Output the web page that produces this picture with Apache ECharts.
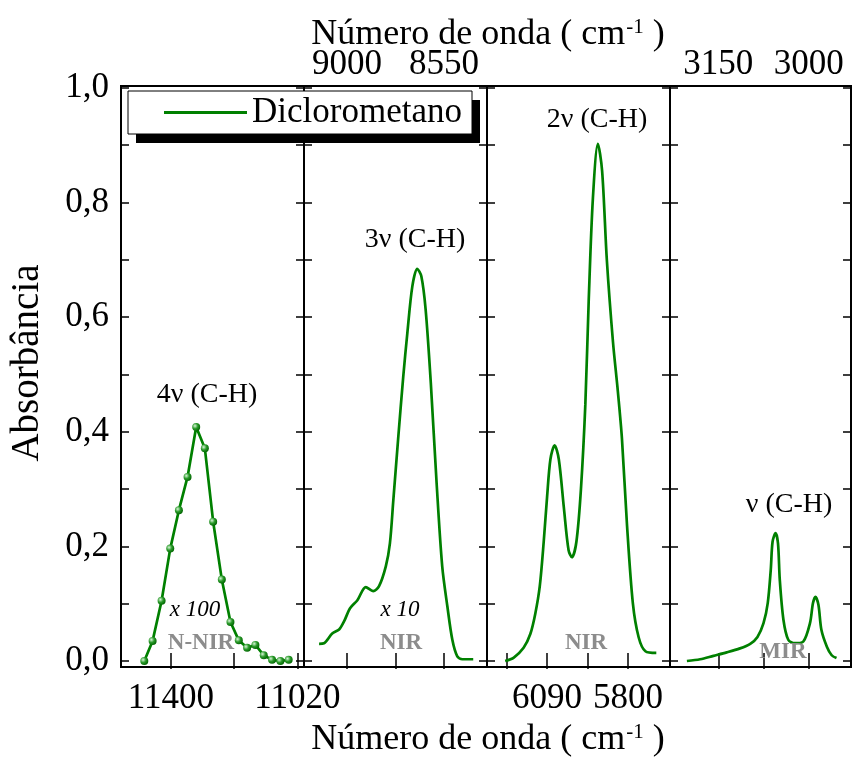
<!DOCTYPE html>
<html>
<head>
<meta charset="utf-8">
<script src="https://cdn.jsdelivr.net/npm/echarts@6/dist/echarts.min.js"></script>
<style>html,body{margin:0;padding:0;background:#fff;}#c{width:854px;height:761px;}</style>
</head>
<body>
<div id="c"></div>
<script>
// ---- data ----
const seriesName = 'Diclorometano';
const yTicks = [0, 0.1, 0.2, 0.3, 0.4, 0.5, 0.6, 0.7, 0.8, 0.9, 1.0];
const yLabels = [0, 0.2, 0.4, 0.6, 0.8, 1.0];

const p1Range = [11000, 11550];
const p1Ticks = [11400, 11210, 11020];
const p1Labels = [11400, 11020];
const p1Wave = [11480, 11455, 11428, 11402, 11376, 11350, 11324, 11298, 11273, 11247, 11221, 11196, 11171, 11146, 11121, 11096, 11071, 11046];
const p1Abs = [0.0, 0.035, 0.105, 0.196, 0.263, 0.321, 0.408, 0.371, 0.243, 0.142, 0.068, 0.036, 0.023, 0.028, 0.010, 0.002, 0.0, 0.002];

const p2Range = [8350, 9200];
const p2Ticks = [9000, 8775, 8550];
const p2Labels = [9000, 8550];
const p2Wave = [9130, 9107, 9069, 9037, 9014, 8986, 8952, 8913, 8879, 8852, 8820, 8801, 8785, 8763, 8739, 8720, 8697, 8674, 8655, 8635, 8611, 8584, 8558, 8534, 8511, 8488, 8465, 8414];
const p2Abs = [0.030, 0.031, 0.048, 0.055, 0.069, 0.092, 0.106, 0.129, 0.122, 0.130, 0.165, 0.205, 0.281, 0.386, 0.496, 0.572, 0.653, 0.684, 0.671, 0.613, 0.485, 0.310, 0.165, 0.095, 0.037, 0.008, 0.003, 0.003];

const p3Range = [5650, 6305];
const p3Ticks = [6235, 6090, 5945, 5800];
const p3Labels = [6090, 5800];
const p3Wave = [6240, 6209, 6174, 6150, 6132, 6116, 6102, 6090, 6078, 6063, 6048, 6030, 6013, 6001, 5985, 5969, 5953, 5941, 5926, 5908, 5893, 5876, 5854, 5837, 5822, 5804, 5783, 5762, 5738, 5699];
const p3Abs = [0.0, 0.006, 0.023, 0.047, 0.083, 0.131, 0.208, 0.286, 0.352, 0.376, 0.352, 0.268, 0.193, 0.181, 0.208, 0.298, 0.448, 0.628, 0.807, 0.902, 0.855, 0.699, 0.556, 0.472, 0.388, 0.238, 0.101, 0.041, 0.017, 0.014];

const p4Range = [2930, 3230];
const p4Ticks = [3150, 3075, 3000];
const p4Labels = [3150, 3000];
const p4Wave = [3202, 3180, 3158, 3136, 3114, 3097, 3085, 3075, 3068, 3063, 3060, 3055, 3051, 3048, 3042, 3034, 3023, 3009, 2998, 2993, 2989, 2984, 2979, 2970, 2962, 2954];
const p4Abs = [0.0, 0.003, 0.009, 0.015, 0.022, 0.030, 0.042, 0.066, 0.101, 0.159, 0.208, 0.223, 0.205, 0.141, 0.072, 0.037, 0.031, 0.034, 0.066, 0.101, 0.112, 0.098, 0.054, 0.025, 0.010, 0.005];

// ---- layout / style ----
const FONT = '"Liberation Serif", "Times New Roman", serif';
const GREEN = '#008000';
const panels = [
  {range: p1Range, ticks: p1Ticks, labels: p1Labels, labelPos: 'bottom', wave: p1Wave, abs: p1Abs, symbols: true},
  {range: p2Range, ticks: p2Ticks, labels: p2Labels, labelPos: 'top', wave: p2Wave, abs: p2Abs},
  {range: p3Range, ticks: p3Ticks, labels: p3Labels, labelPos: 'bottom', wave: p3Wave, abs: p3Abs},
  {range: p4Range, ticks: p4Ticks, labels: p4Labels, labelPos: 'top', wave: p4Wave, abs: p4Abs}
];
const gridLefts = [121, 304, 487, 670];
const gridWidths = [183, 183, 183, 181];
const gridTop = 86, gridHeight = 581;

const grids = [], xAxes = [], yAxes = [], series = [];
const tickStyle = {show: true, inside: true, length: 8, lineStyle: {color: '#000', width: 1.5}};

panels.forEach((p, i) => {
  grids.push({left: gridLefts[i], top: gridTop, width: gridWidths[i], height: gridHeight,
    show: true, borderColor: '#000', borderWidth: 2, backgroundColor: 'transparent'});
  ['bottom', 'top'].forEach(pos => {
    xAxes.push({
      type: 'value', gridIndex: i, position: pos, inverse: true,
      min: p.range[0], max: p.range[1],
      axisLine: {show: false}, splitLine: {show: false},
      axisTick: Object.assign({customValues: p.ticks}, tickStyle),
      axisLabel: {show: p.labelPos === pos, customValues: p.labels,
        fontFamily: FONT, fontSize: 35, color: '#000', margin: pos === 'bottom' ? 14 : 4,
        formatter: v => String(Math.round(v))}
    });
  });
  ['left', 'right'].forEach(pos => {
    yAxes.push({
      type: 'value', gridIndex: i, position: pos,
      min: -0.0105, max: 1.003,
      axisLine: {show: false}, splitLine: {show: false},
      axisTick: Object.assign({customValues: yTicks}, tickStyle),
      axisLabel: {show: i === 0 && pos === 'left', customValues: yLabels,
        fontFamily: FONT, fontSize: 35, color: '#000', margin: 12,
        formatter: v => v.toFixed(1).replace('.', ',')}
    });
  });
  series.push({
    name: seriesName, type: 'line',
    xAxisIndex: i * 2, yAxisIndex: i * 2,
    data: p.wave.map((w, k) => [w, p.abs[k]]),
    smooth: p.symbols ? false : 0.3,
    symbol: p.symbols ? 'circle' : 'none',
    symbolSize: 8, showAllSymbol: true,
    lineStyle: {color: GREEN, width: 2.7},
    itemStyle: {color: p.symbols ? {type: 'radial', x: 0.35, y: 0.35, r: 0.7,
      colorStops: [{offset: 0, color: '#d8f5d8'}, {offset: 0.5, color: '#2a9a2a'}, {offset: 1, color: '#006400'}]} : GREEN},
    animation: false
  });
});

function txt(x, y, text, opts) {
  return {type: 'text', x: x, y: y, z: 10,
    style: Object.assign({text: text, fontFamily: FONT, fontSize: 28, fill: '#000',
      align: 'center', verticalAlign: 'middle'}, opts || {})};
}
const titleRich = {
  m: {fontFamily: FONT, fontSize: 36, color: '#000'},
  s: {fontFamily: FONT, fontSize: 21, color: '#000', verticalAlign: 'top', padding: [0, 0, 0, 1]}
};
const titleText = '{m|Número de onda ( cm}{s|-1}{m| )}';
const grayBold = {fontWeight: 'bold', fill: '#8c8c8c', fontSize: 23};
const ital = {fontStyle: 'italic', fontSize: 23};

const option = {
  backgroundColor: '#fff',
  animation: false,
  grid: grids, xAxis: xAxes, yAxis: yAxes, series: series,
  legend: {
    left: 128, top: 91, orient: 'horizontal', z: 6,
    data: [{name: seriesName, icon: 'rect'}],
    itemWidth: 83, itemHeight: 3,
    itemStyle: {color: GREEN},
    lineStyle: {width: 3, color: GREEN},
    padding: [4, 9, 4, 36],
    backgroundColor: 'transparent', borderWidth: 0,
    textStyle: {fontFamily: FONT, fontSize: 35, color: '#000'},
    selectedMode: false
  },
  graphic: [
    {type: 'rect', z: 5, shape: {x: 136, y: 100, width: 344, height: 43}, style: {fill: '#000'}},
    {type: 'rect', z: 5, shape: {x: 128, y: 91, width: 344, height: 43}, style: {fill: '#fff', stroke: '#000', lineWidth: 1}},
    txt(488, 35, titleText, {rich: titleRich}),
    txt(488, 740, titleText, {rich: titleRich}),
    Object.assign(txt(28, 363, 'Absorbância', {fontSize: 39}), {rotation: Math.PI / 2}),
    txt(207, 395, '4ν (C-H)'),
    txt(415, 240, '3ν (C-H)'),
    txt(597, 120, '2ν (C-H)'),
    txt(789, 505, 'ν (C-H)'),
    txt(195, 610, 'x 100', ital),
    txt(201, 643, 'N-NIR', grayBold),
    txt(400, 610, 'x 10', ital),
    txt(401, 643, 'NIR', grayBold),
    txt(586, 643, 'NIR', grayBold),
    txt(783, 652, 'MIR', grayBold)
  ]
};
const chart = echarts.init(document.getElementById('c'), null, {renderer: 'canvas'});
chart.setOption(option);
</script>
</body>
</html>
